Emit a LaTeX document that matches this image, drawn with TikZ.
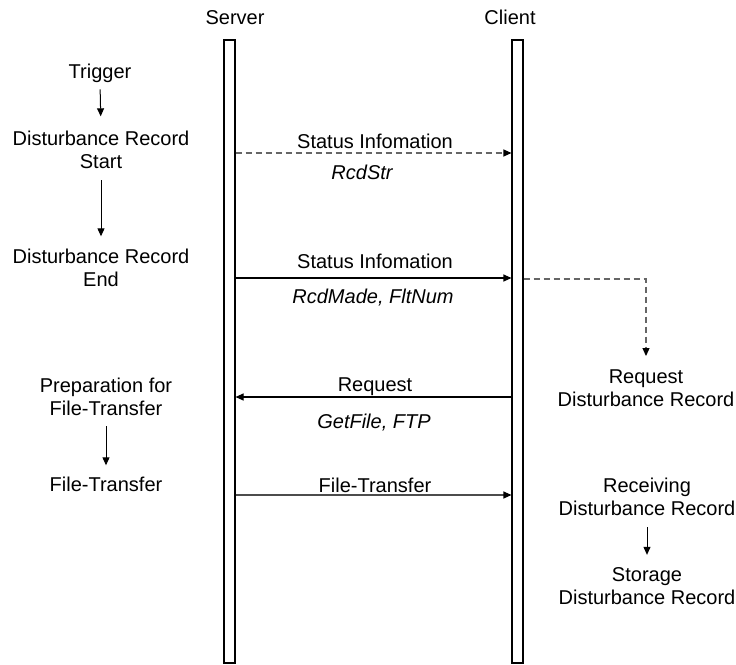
\documentclass[tikz,border=0pt]{standalone}
\usepackage{fontspec}
\setmainfont{Liberation Sans}
\usetikzlibrary{arrows.meta}
\tikzset{
  lbl/.style={font=\fontsize{20}{23}\selectfont, align=center, inner sep=0pt, anchor=base},
  note/.style={lbl, font=\fontsize{20}{23}\selectfont\itshape},
  lifebar/.style={draw, line width=1.1pt, minimum width=11pt, minimum height=623pt, inner sep=0pt},
  tip/.style={-{Triangle[length=8pt,width=7pt,color=black]}},
  flow/.style={tip, line width=1pt},
  msg/.style={tip, line width=1.1pt},
  dashmsg/.style={msg, draw=black!60, dash pattern=on 6pt off 4pt},
}
\begin{document}
\begin{tikzpicture}[x=1pt,y=-1pt]
\useasboundingbox (0,0) rectangle (736,664);

% lifelines
\node[lbl] (srvname) at (235,24) {Server};
\node[lbl] (cliname) at (510,24) {Client};
\node[lifebar] (srv) at (229.5,351.5) {};
\node[lifebar] (cli) at (517.5,351.5) {};

% server side steps (multi-line labels sit on the baseline of their last line)
\node[lbl] (trig) at (100,78) {Trigger};
\node[lbl] (drs) at (101,168) {Disturbance Record\\Start};
\node[lbl] (dre) at (101,286) {Disturbance Record\\End};
\node[lbl] (prep) at (106,415) {Preparation for\\File-Transfer};
\node[lbl] (ft) at (106,491) {File-Transfer};

\draw[flow, shorten <=7pt, shorten >=14pt] (trig.south) -- (drs.north);
\draw[flow, shorten <=12pt, shorten >=12pt] (drs.south) -- (dre.north);
\draw[flow, shorten <=11pt, shorten >=11pt] (prep.south) -- (ft.north);

% client side steps
\node[lbl] (reqdr) at (646,406) {Request\\Disturbance Record};
\node[lbl] (recdr) at (647,515) {Receiving\\Disturbance Record};
\node[lbl] (stodr) at (647,604) {Storage\\Disturbance Record};

\draw[flow, shorten <=12pt, shorten >=12pt] (recdr.south) -- (stodr.north);

% messages
\draw[dashmsg] (srv.east |- 0,153) -- (cli.west |- 0,153);
\node[lbl] (m1) at (375,148) {Status Infomation};
\node[note] (m1p) at (362,179) {RcdStr};

\draw[msg] (srv.east |- 0,278) -- (cli.west |- 0,278);
\node[lbl] (m2) at (375,268) {Status Infomation};
\node[note] (m2p) at (373,303) {RcdMade, FltNum};

\draw[dashmsg, shorten >=13pt] (cli.east |- 0,279) -| (reqdr.north);

\draw[msg] (cli.west |- 0,397) -- (srv.east |- 0,397);
\node[lbl] (m3) at (375,391) {Request};
\node[note] (m3p) at (374,428) {GetFile, FTP};

\draw[msg, draw=black!70] (srv.east |- 0,495) -- (cli.west |- 0,495);
\node[lbl] (m4) at (375,492) {File-Transfer};
\end{tikzpicture}
\end{document}
